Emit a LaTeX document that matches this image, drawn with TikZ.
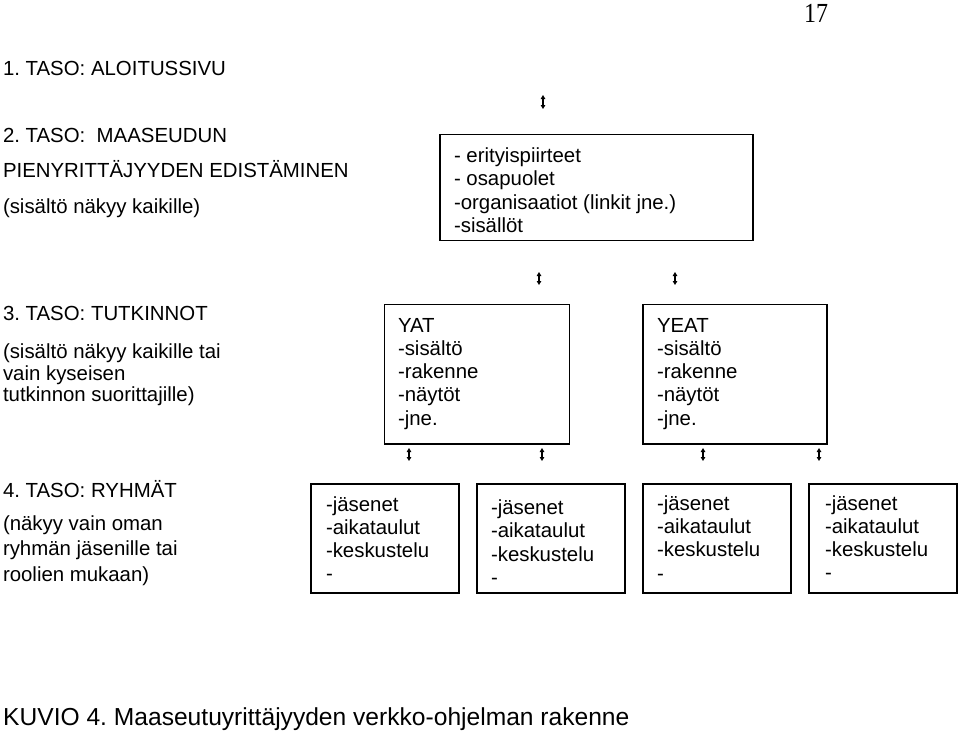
\documentclass[tikz,border=0pt]{standalone}
\usepackage{fontspec}
\setmainfont{Liberation Sans}
\newfontfamily\pagenumfont{Liberation Serif}
\usetikzlibrary{arrows.meta}
\newcommand{\mylines}[1]{\begin{tabular}[t]{@{}l@{}}#1\end{tabular}}
\frenchspacing
\begin{document}
\begin{tikzpicture}[x=1pt,y=-1pt,
  txt/.style={inner sep=0pt, outer sep=0pt, anchor=base west, font=\fontsize{20.4}{23.3}\selectfont},
  box/.style={draw, line width=1.6pt, inner sep=0pt, anchor=north west},
  updown/.style={{Triangle[length=4pt,width=4.5pt]}-{Triangle[length=4pt,width=4.5pt]}, line width=1.2pt}]
\useasboundingbox (0,0) rectangle (960,732);

% page number
\node[inner sep=0pt, anchor=base west, font=\pagenumfont\fontsize{24}{28}\selectfont] (pnum) at (804,22) {\scalebox{1}[1.15]{17}};

% left labels
\node[txt] (l1) at (3,75) {1. TASO: ALOITUSSIVU};
\node[txt, font=\fontsize{20.4}{35.5}\selectfont] (l2) at (3,142)
  {\mylines{2. TASO:\ \ MAASEUDUN\\PIENYRITTÄJYYDEN EDISTÄMINEN\\(sisältö näkyy kaikille)}};
\node[txt] (l3) at (3,320) {3. TASO: TUTKINNOT};
\node[txt, font=\fontsize{20.4}{21.5}\selectfont] (l3b) at (3,358.5)
  {\mylines{(sisältö näkyy kaikille tai\\vain kyseisen\\tutkinnon suorittajille)}};
\node[txt] (l4) at (3,497) {4. TASO: RYHMÄT};
\node[txt, font=\fontsize{20.4}{25.5}\selectfont] (l4b) at (3,530)
  {\mylines{(näkyy vain oman\\ryhmän jäsenille tai\\roolien mukaan)}};

% level 2 box
\node[box, minimum width=313pt, minimum height=106pt] (b2) at (439,133.5) {};
\node[txt] (t2) at (454,162.5)
  {\mylines{- erityispiirteet\\- osapuolet\\-organisaatiot (linkit jne.)\\-sisällöt}};

% level 3 boxes
\node[box, minimum width=185pt, minimum height=139.5pt] (byat) at (383.5,303.5) {};
\node[txt] (tyat) at (398,332)
  {\mylines{YAT\\-sisältö\\-rakenne\\-näytöt\\-jne.}};
\node[box, minimum width=184pt, minimum height=139.5pt] (byeat) at (642,303.5) {};
\node[txt] (tyeat) at (657,332)
  {\mylines{YEAT\\-sisältö\\-rakenne\\-näytöt\\-jne.}};

% level 4 boxes
\node[box, minimum width=148pt, minimum height=109pt] (g1) at (310,483) {};
\node[box, minimum width=148pt, minimum height=109pt] (g2) at (476,483) {};
\node[box, minimum width=148pt, minimum height=109pt] (g3) at (642,483) {};
\node[box, minimum width=148pt, minimum height=109pt] (g4) at (808,483) {};
\node[txt, font=\fontsize{20.4}{23}\selectfont] (tg1) at (326,511) {\mylines{-jäsenet\\-aikataulut\\-keskustelu\\-}};
\node[txt, font=\fontsize{20.4}{23.5}\selectfont] (tg2) at (491,514) {\mylines{-jäsenet\\-aikataulut\\-keskustelu\\-}};
\node[txt, font=\fontsize{20.4}{23}\selectfont] (tg3) at (657,510) {\mylines{-jäsenet\\-aikataulut\\-keskustelu\\[1.5pt]-}};
\node[txt, font=\fontsize{20.4}{23}\selectfont] (tg4) at (825,510) {\mylines{-jäsenet\\-aikataulut\\-keskustelu\\-}};

% double arrows
\coordinate (a0t) at (543,95);  \coordinate (a0b) at (543,109);
\coordinate (a1t) at (539,272); \coordinate (a1b) at (539,285);
\coordinate (a2t) at (675,272); \coordinate (a2b) at (675,285);
\coordinate (a3t) at (409,448); \coordinate (a3b) at (409,461);
\coordinate (a4t) at (542,448); \coordinate (a4b) at (542,461);
\coordinate (a5t) at (703,448); \coordinate (a5b) at (703,461);
\coordinate (a6t) at (819,448); \coordinate (a6b) at (819,461);
\foreach \i in {0,...,6} {\draw[updown] (a\i t) -- (a\i b);}

% caption
\node[inner sep=0pt, anchor=base west, font=\fontsize{24.6}{28}\selectfont] (cap) at (3,725)
  {KUVIO 4. Maaseutuyrittäjyyden verkko-ohjelman rakenne};
\end{tikzpicture}
\end{document}
